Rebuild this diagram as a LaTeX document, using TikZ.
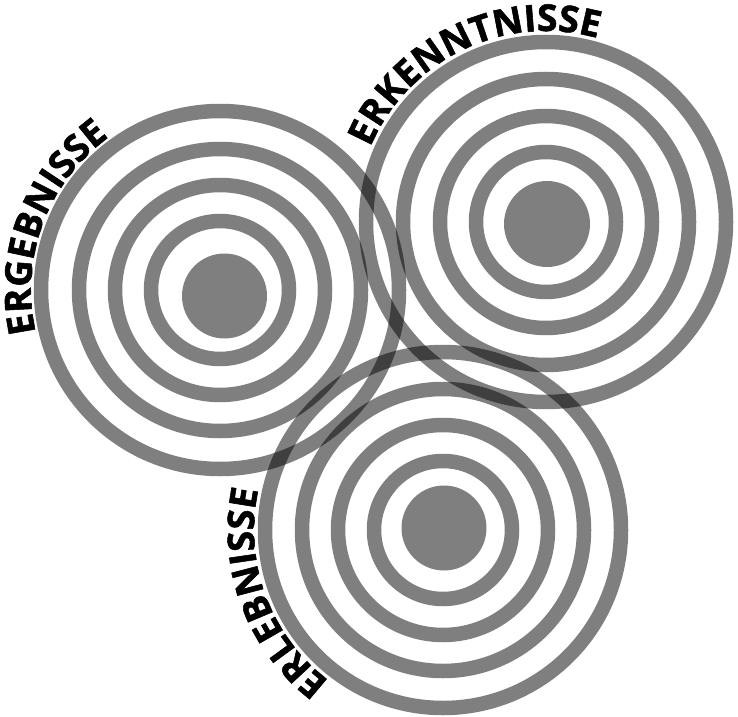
\documentclass[tikz,border=0pt]{standalone}
\usepackage{fontspec}
\setmainfont{Open Sans}
\newfontfamily\heavyfamily[BoldFeatures={FakeBold=1.5}]{Open Sans}
\usetikzlibrary{decorations.text}
\newcommand\arclabelfont{\heavyfamily\fontsize{37}{40}\selectfont\bfseries}
\tikzset{
  ringline/.style={draw=black, draw opacity=0.5, line width=14.5pt},
  discfill/.style={fill=black, fill opacity=0.5},
  arclabel/.style={decorate, decoration={text along path, text align=left, text={|\arclabelfont|#1}}}
}
\begin{document}
\begin{tikzpicture}[x=1pt,y=1pt]
\useasboundingbox (0,0) rectangle (738,716);
\fill[white] (0,0) rectangle (738,716);
% left target
\coordinate (lc) at (220,426);
\coordinate (ld) at (224.5,420);
\foreach \r in {69,105,141,179} \draw[ringline] (lc) circle[radius=\r];
\fill[discfill] (ld) circle[radius=42.5];
% right target
\coordinate (rc) at (546,494);
\coordinate (rd) at (547,492);
\foreach \r in {70,106,143,180} \draw[ringline] (rc) circle[radius=\r];
\fill[discfill] (rd) circle[radius=43];
% bottom target
\coordinate (bc) at (443,186);
\coordinate (bd) at (444,188);
\foreach \r in {69,105,141,178} \draw[ringline] (bc) circle[radius=\r];
\fill[discfill] (bd) circle[radius=42.5];
% labels
\path[arclabel=ERGEBNISSE] (lc) ++(193:189) arc[start angle=193, end angle=100, radius=189];
\path[arclabel=ERKENNTNISSE] (rc) ++(157:191) arc[start angle=157, end angle=50, radius=191];
\path[arclabel=ERLEBNISSE] (bc) ++(233:189) arc[start angle=233, end angle=140, radius=189];
\end{tikzpicture}
\end{document}
